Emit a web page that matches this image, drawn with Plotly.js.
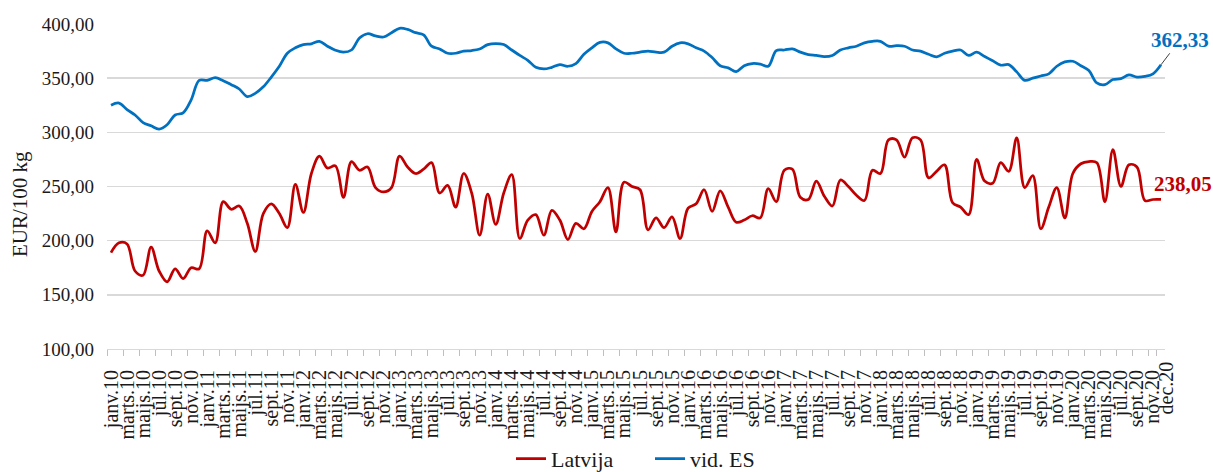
<!DOCTYPE html>
<html>
<head>
<meta charset="utf-8">
<script src="https://cdn.plot.ly/plotly-3.0.1.min.js"></script>
<style>html,body{margin:0;padding:0;background:#fff;}#chart{width:1213px;height:472px;}</style>
</head>
<body>
<div id="chart"></div>
<script>
const monthNames = ["janv.","febr.","marts.","apr.","maijs.","jūn.","jūl.","aug.","sept.","okt.","nov.","dec."];
const years = ["10","11","12","13","14","15","16","17","18","19","20"];

const latvija = [
  189,198,197,172,168,194,172,162,174,165,175,174,
  209,198,236,229,232,216,190,225,234,225,212,252,
  226,262,278,267,269,240,273,265,268,249,245,249,
  278,268,262,266,272,244,251,231,262,244,205,243,
  215,244,261,202,219,224,205,228,219,201,216,211,
  227,236,249,208,254,250,247,210,221,212,222,202,
  230,234,247,227,246,231,217,219,223,221,248,236,
  265,266,240,238,255,241,232,256,250,242,237,265,
  262,293,293,277,295,293,258,264,270,235,231,224,
  275,255,253,272,264,295,249,260,211,231,249,221,
  262,271,273,272,236,284,250,270,268,237,238,238.05
];

const vidES = [
  325,327,321,316,309,306,303,307,316,318,330,348,
  348,350.5,347.7,344,340,333,336,342,351,361,373,378,
  381,381.7,384,379.5,375.8,374,376,387,391,389,388,392,
  396,395,392,390,379.5,377,373,373,375,375.5,377,381,
  382,381,376,371,366.5,360,358.5,360,362.5,361,363.5,372,
  378,383,382.6,377,373,373,374,375,374,374,379.5,382.6,
  381.7,378,375,369,361.5,359.5,356,361.5,363.5,363,361,375.5,
  376,377,374,371.8,371,370,371,376,378,379.5,382.6,384,
  384,379.5,380,379.5,376,375,372,369.6,373,375,376,371,
  374,370,366,362,362.5,355.8,348,350,352,354,361,365,
  365.6,361.5,357,345.6,344,348.7,349.6,353,351,351.7,354,362.33
];

const yTickVals = [100,150,200,250,300,350,400];
const yTickText = ["100,00","150,00","200,00","250,00","300,00","350,00","400,00"];

const categories = [];
years.forEach(y => monthNames.forEach(m => categories.push(m + y)));
const xTickVals = categories.filter((c, i) => i % 2 === 0);
const lastCat = categories[categories.length - 1];

const serif = "'Liberation Serif', 'Times New Roman', 'DejaVu Serif', serif";
const txt = "#1a1a1a";

const traces = [
  {x: categories, y: latvija, type: "scatter", mode: "lines", name: "Latvija",
   line: {color: "#C00000", width: 2.75, shape: "spline", smoothing: 1}},
  {x: categories, y: vidES, type: "scatter", mode: "lines", name: "vid. ES",
   line: {color: "#0070C0", width: 2.75, shape: "spline", smoothing: 1}}
];

const layout = {
  width: 1213, height: 472,
  paper_bgcolor: "#fff", plot_bgcolor: "#fff",
  margin: {l: 107, r: 48, t: 24, b: 123, autoexpand: false},
  font: {family: serif, color: txt, size: 19},
  showlegend: true,
  legend: {orientation: "h", x: 0.5 + 14 / 1058, xanchor: "center", y: -0.338, yanchor: "middle",
           entrywidth: 94, entrywidthmode: "pixels",
           font: {family: serif, size: 22, color: txt}, bgcolor: "rgba(0,0,0,0)"},
  xaxis: {
    type: "category", range: [-0.5, categories.length - 0.5],
    tickmode: "array", tickvals: xTickVals, ticktext: xTickVals,
    tickangle: -90, tickson: "boundaries",
    ticks: "outside", ticklen: 6, tickcolor: "#bfbfbf", tickwidth: 1,
    showline: true, linecolor: "#d9d9d9", linewidth: 1,
    showgrid: false, zeroline: false, automargin: false,
    tickfont: {family: serif, size: 20, color: txt}, ticklabelstandoff: 12
  },
  yaxis: {
    range: [100, 400], tickmode: "array", tickvals: yTickVals, ticktext: yTickText,
    showgrid: true, gridcolor: "#d9d9d9", gridwidth: 1.5, zeroline: false,
    showline: false, ticks: "", automargin: false, ticklabelstandoff: 12,
    tickfont: {family: serif, size: 19, color: txt}
  },
  annotations: [
    {xref: "paper", yref: "paper", x: (20 - 107) / 1058, y: (349 - 204) / 325,
     xanchor: "center", yanchor: "middle",
     text: "EUR/100 kg", textangle: -90, showarrow: false,
     font: {family: serif, size: 21, color: txt}},
    {x: lastCat, xref: "x", yref: "paper", y: 0, xanchor: "center", yanchor: "top",
     xshift: 5, yshift: -10,
     text: lastCat, textangle: -90, showarrow: false,
     font: {family: serif, size: 20, color: txt}},
    {x: lastCat, y: vidES[vidES.length - 1], xref: "x", yref: "y",
     text: "<b>362,33</b>", showarrow: true, arrowhead: 0, arrowwidth: 1, arrowcolor: "#404040",
     ax: 19, ay: -25, font: {family: serif, size: 21, color: "#0070C0"}},
    {x: lastCat, y: latvija[latvija.length - 1], xref: "x", yref: "y",
     text: "<b>238,05</b>", showarrow: false, xshift: 22, yshift: 15,
     font: {family: serif, size: 21, color: "#C00000"}}
  ]
};

Plotly.newPlot("chart", traces, layout, {displayModeBar: false, staticPlot: true});
</script>
</body>
</html>
